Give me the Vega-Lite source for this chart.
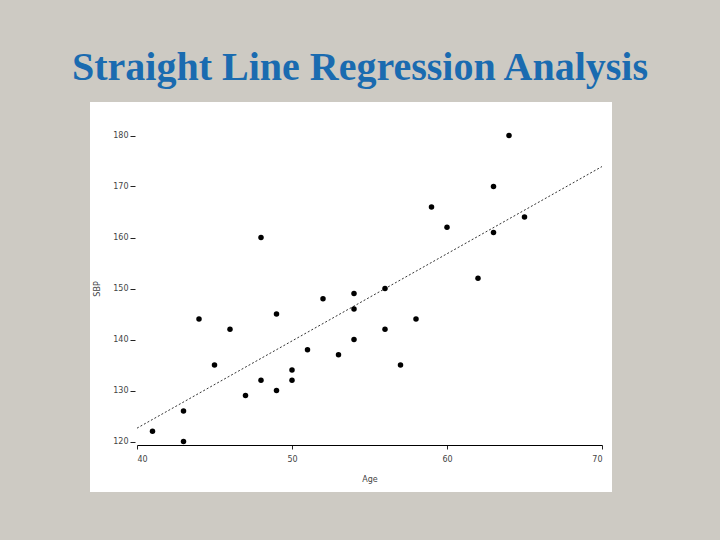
{
  "$schema": "https://vega.github.io/schema/vega-lite/v6.json",
  "width": 522,
  "height": 390,
  "autosize": {"type": "none"},
  "padding": {"left": 90, "top": 102, "right": 108, "bottom": 48},
  "background": "#cdcac3",
  "title": {
    "text": "Straight Line Regression Analysis",
    "font": "Liberation Serif",
    "fontSize": 40,
    "fontWeight": "bold",
    "color": "#1a6bb0",
    "anchor": "middle",
    "baseline": "alphabetic",
    "offset": -18,
    "dx": 9
  },
  "config": {
    "view": {"fill": "white", "stroke": null},
    "axis": {
      "labelFont": "DejaVu Sans",
      "titleFont": "DejaVu Sans",
      "labelFontSize": 8,
      "titleFontSize": 8,
      "titleFontWeight": "normal",
      "labelColor": "#444",
      "titleColor": "#444",
      "tickColor": "#222",
      "domainColor": "#000",
      "grid": false
    }
  },
  "data": {
    "values": [
      {"Age": 41, "SBP": 122},
      {"Age": 43, "SBP": 120},
      {"Age": 43, "SBP": 126},
      {"Age": 44, "SBP": 144},
      {"Age": 45, "SBP": 135},
      {"Age": 46, "SBP": 142},
      {"Age": 47, "SBP": 129},
      {"Age": 48, "SBP": 160},
      {"Age": 48, "SBP": 132},
      {"Age": 49, "SBP": 145},
      {"Age": 49, "SBP": 130},
      {"Age": 50, "SBP": 134},
      {"Age": 50, "SBP": 132},
      {"Age": 51, "SBP": 138},
      {"Age": 52, "SBP": 148},
      {"Age": 53, "SBP": 137},
      {"Age": 54, "SBP": 149},
      {"Age": 54, "SBP": 146},
      {"Age": 54, "SBP": 140},
      {"Age": 56, "SBP": 150},
      {"Age": 56, "SBP": 142},
      {"Age": 57, "SBP": 135},
      {"Age": 58, "SBP": 144},
      {"Age": 59, "SBP": 166},
      {"Age": 60, "SBP": 162},
      {"Age": 62, "SBP": 152},
      {"Age": 63, "SBP": 170},
      {"Age": 63, "SBP": 161},
      {"Age": 64, "SBP": 180},
      {"Age": 65, "SBP": 164}
    ]
  },
  "layer": [
    {
      "mark": {"type": "point", "filled": true, "color": "black", "opacity": 1, "size": 30},
      "encoding": {
        "x": {
          "field": "Age",
          "type": "quantitative",
          "scale": {"domain": [40, 70], "range": [47, 512], "nice": false, "zero": false},
          "axis": {
            "title": "Age",
            "values": [40, 50, 60, 70],
            "offset": -47,
            "tickSize": 4,
            "labelPadding": 6,
            "titlePadding": 12
          }
        },
        "y": {
          "field": "SBP",
          "type": "quantitative",
          "scale": {"domain": [120, 180], "range": [339.5, 33.5], "nice": false, "zero": false},
          "axis": {
            "title": "SBP",
            "values": [120, 130, 140, 150, 160, 170, 180],
            "offset": -45,
            "domain": false,
            "tickSize": 5,
            "labelPadding": 2,
            "titlePadding": 11
          }
        }
      }
    },
    {
      "transform": [{"regression": "SBP", "on": "Age", "extent": [40, 70]}],
      "mark": {"type": "line", "color": "black", "strokeWidth": 0.8, "strokeDash": [2, 2]},
      "encoding": {
        "x": {"field": "Age", "type": "quantitative"},
        "y": {"field": "SBP", "type": "quantitative"}
      }
    }
  ]
}
